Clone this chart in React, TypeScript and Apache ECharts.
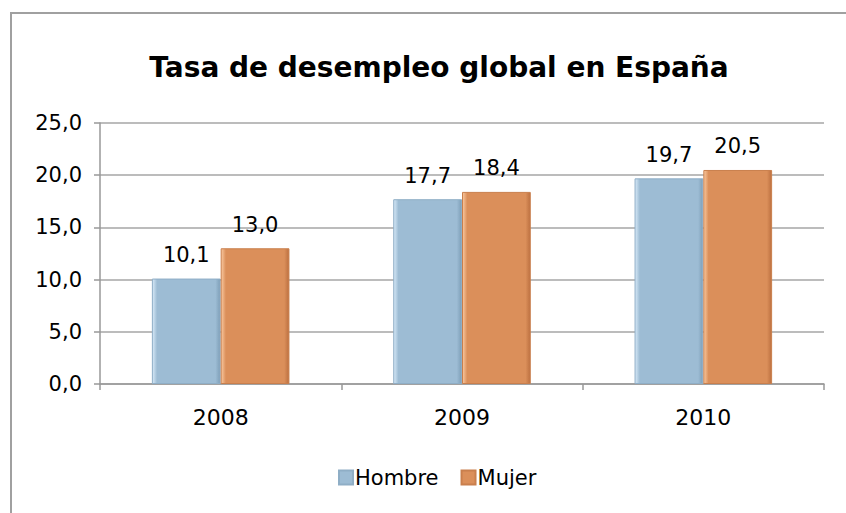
import React, { useEffect, useRef } from "react";
import * as echarts from "echarts";

const categories = ["2008", "2009", "2010"];
const hombre = [10.1, 17.7, 19.7];
const mujer = [13.0, 18.4, 20.5];
const yTicks = [0, 5, 10, 15, 20, 25];

const fmt = (v: number) => v.toFixed(1).replace(".", ",");
const FONT = "DejaVu Sans";

export default function App() {
  const ref = useRef<HTMLDivElement>(null);
  useEffect(() => {
    if (!ref.current) return;
    const chart = echarts.init(ref.current, undefined, { renderer: "svg" });
    const grad = (light: string, base: string, dark: string) =>
      new echarts.graphic.LinearGradient(0, 0, 1, 0, [
        { offset: 0, color: light },
        { offset: 0.07, color: base },
        { offset: 0.93, color: base },
        { offset: 1, color: dark },
      ]);
    const dataLabel = {
      show: true,
      position: "top",
      distance: 13,
      fontFamily: FONT,
      fontSize: 21,
      color: "#000",
      formatter: (p: any) => fmt(p.value),
    };
    chart.setOption({
      animation: false,
      backgroundColor: "#ffffff",
      title: {
        text: "Tasa de desempleo global en España",
        left: 434,
        top: 48,
        textAlign: "center",
        textStyle: { fontFamily: FONT, fontWeight: "bold", fontSize: 28, color: "#000" },
      },
      graphic: [
        {
          type: "rect",
          shape: { x: 11, y: 13, width: 900, height: 600 },
          style: { fill: "none", stroke: "#A0A0A0", lineWidth: 2 },
          silent: true,
        },
      ],
      legend: {
        left: 338,
        top: 467,
        padding: 0,
        itemWidth: 14,
        itemHeight: 14,
        itemGap: 22,
        icon: "rect",
        textStyle: { fontFamily: FONT, fontSize: 21, color: "#000", padding: [0, 0, 0, -3] },
        data: ["Hombre", "Mujer"],
      },
      grid: { left: 100, right: 22, top: 123, bottom: 129 },
      xAxis: {
        type: "category",
        data: categories,
        axisLine: { lineStyle: { color: "#999", width: 1.5 } },
        axisTick: { show: true, length: 6, lineStyle: { color: "#999", width: 1.5 } },
        axisLabel: { fontFamily: FONT, fontSize: 22, color: "#000", margin: 22 },
      },
      yAxis: {
        type: "value",
        min: yTicks[0],
        max: yTicks[yTicks.length - 1],
        interval: 5,
        axisLine: { show: true, lineStyle: { color: "#999", width: 1.5 } },
        axisTick: { show: true, length: 6, lineStyle: { color: "#999", width: 1.5 } },
        splitLine: { lineStyle: { color: "#A6A6A6", width: 1.5 } },
        axisLabel: {
          fontFamily: FONT,
          fontSize: 21,
          color: "#000",
          margin: 18,
          formatter: (v: number) => fmt(v),
        },
      },
      series: [
        {
          name: "Hombre",
          type: "bar",
          data: hombre,
          barGap: "0%",
          barCategoryGap: "43%",
          itemStyle: {
            color: grad("#D8EAF8", "#9DBCD4", "#7E9FB8"),
            borderColor: "#8FAEC6",
            borderWidth: 1,
          },
          label: dataLabel,
        },
        {
          name: "Mujer",
          type: "bar",
          data: mujer,
          itemStyle: {
            color: grad("#FAC9A0", "#DB8F5A", "#BC7040"),
            borderColor: "#C97F4D",
            borderWidth: 1,
          },
          label: dataLabel,
        },
      ],
    });
    return () => chart.dispose();
  }, []);
  return (
    <div
      ref={ref}
      style={{ position: "fixed", left: 0, top: 0, width: 846, height: 513 }}
    />
  );
}
